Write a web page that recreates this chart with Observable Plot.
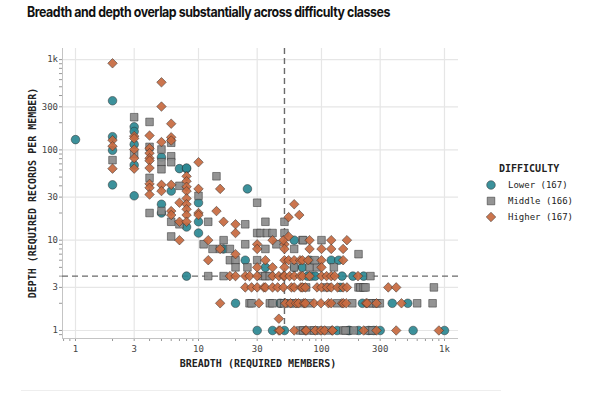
<!DOCTYPE html>
<html>
<head>
<meta charset="utf-8">
<script src="https://cdn.jsdelivr.net/npm/d3@7"></script>
<script src="https://cdn.jsdelivr.net/npm/@observablehq/plot@0.6"></script>
<style>
  body { margin: 0; background: #fff; width: 600px; height: 400px; overflow: hidden; position: relative; }
  #title { position: absolute; left: 27px; top: 3px; font: 700 14px Inter, "Noto Sans", sans-serif; letter-spacing: -0.5px; color: #111; white-space: nowrap; transform-origin: 0 0; }
  #chart { position: absolute; left: 0; top: 30px; }
  .axis-title { position: absolute; font: 700 10px "DejaVu Sans Mono", monospace; color: #222; white-space: nowrap; }
  #xtitle { left: 258px; top: 358px; transform: translateX(-50%); }
  #ytitle { left: 32px; top: 193px; transform: translate(-50%, -50%) rotate(-90deg); }
  #legend { position: absolute; left: 484px; top: 163px; font-family: "DejaVu Sans Mono", monospace; color: #222; }
  #legend .lt { font-weight: 700; font-size: 10px; margin-left: 15px; margin-bottom: 3px; }
  #legend .row { display: flex; align-items: center; height: 16px; font-size: 9px; }
  #legend svg { margin-right: 10px; }
  #rule { position: absolute; left: 21px; top: 390px; width: 480px; height: 1px; background: #eee; }
</style>
</head>
<body>
<div id="title">Breadth and depth overlap substantially across difficulty classes</div>
<div id="chart"></div>
<div class="axis-title" id="xtitle"></div>
<div class="axis-title" id="ytitle"></div>
<div id="legend"></div>
<div id="rule"></div>
<script>
// Difficulty classes and their task counts
const classes = ["Lower", "Middle", "Higher"];
const counts = [167, 166, 167];
const symbols = ["circle", "square", "diamond2"];
const colors = ["#2b8892", "#8b8b8b", "#c7693f"];

// Axis setup
const xLabel = "BREADTH (REQUIRED MEMBERS)";
const yLabel = "DEPTH (REQUIRED RECORDS PER MEMBER)";
const legendTitle = "DIFFICULTY";
const xDomain = [0.784, 1300];
const yDomain = [0.815, 1327];
const xTicks = [1, 3, 10, 30, 100, 300, 1000];
const yTicks = [1, 3, 10, 30, 100, 300, 1000];
const breadthCut = 50;
const depthCut = 4;

// [breadth, depth] per task
const lower = [
  [1,130],[2,350],[2,140],[2,99],[2,41],[3,180],[3,160],[3,115],[3,68],[3,31],
  [5,83],[5,25],[5,20],[6,35],[7,62],[8,62],[8,63],[8,14],[8,4],[10,26],[10,16],[10,12],
  [25,37],[16,8],[24,6],[35,5],[60,10],[70,5],[60,5],[83,4],[80,6],[120,6],[138,6],
  [77,4],[89,4],[147,4],[180,4],[220,4],[142,3],[20,2],[46,2],[215,2],[376,2],[503,2],
  [30,1],[40,1],[50,1],[134,1],[166,1],[169,1],[201,1],[242,1],[266,1],[300,1],[556,1],[1000,1]
];
const middle = [
  [2,77],[3,230],[3,90],[4,204],[4,108],[4,49],[4,20],[5,101],[5,73],[5,61],[5,21],
  [6,120],[6,85],[6,73],[6,16],[6,11],[7,40],[7,15],[10,31],
  [14,51],[30,26],[12,16],[24,15],[35,16],[50,16],[30,12],[32,12],[36,12],[40,12],[50,12],
  [11,9],[16,10],[13,8],[15,8],[18,8],[24,9],[35,8],[43,9],[60,8],[70,10],[71,10],[100,10],
  [18,6],[20,6],[30,6],[20,5],[25,5],[60,5],[80,5],[92,5],[126,5],[88,6],[200,7],
  [12,4],[16,4],[33,4],[35,4],[38,4],[250,4],
  [75,3],[110,3],[200,3],[207,3],[220,3],[228,3],[820,3],
  [26,2],[27,2],[38,2],[40,2],[47,2],[50,2],[56,2],[60,2],[68,2],[80,2],[134,2],[178,2],[250,2],[260,2],[280,2],[298,2],[600,2],[800,2],
  [67,1],[71,1],[82,1],[87,1],[98,1],[115,1],[151,1],[157,1],[183,1],[240,1],[260,1]
];
const higher = [
  [2,910],[2,128],[2,110],[2,62],[3,142],[3,134],[3,101],[3,81],[3,62],
  [4,144],[4,104],[4,92],[4,81],[4,76],[4,63],[4,42],[4,38],[4,32],
  [5,560],[5,302],[5,122],[5,41],[5,35],[6,195],[6,138],[6,127],[6,41],[6,21],[6,19],
  [7,26],[7,16],[7,10],[8,51],[8,45],[8,39],[8,35],[8,29],[8,25],[8,22],[8,19],[8,16],
  [10,73],[10,37],[10,20],[10,19],
  [14,21],[15,37],[16,16],[20,15],[20,12],[12,10],[12,6],[20,7],[15,8],[30,9],[30,8],[50,9],[50,8],
  [54,18],[60,25],[66,19],[40,10],[49,10],[54,11],[80,10],[120,10],[161,10],
  [80,8],[100,8],[120,8],[150,8],[35,6],[50,6],[54,6],[60,6],[67,6],[70,6],[78,6],[100,6],[150,6],
  [30,5],[40,5],[50,5],[100,5],
  [18,4],[20,4],[24,4],[26,4],[30,4],[40,4],[45,4],[49,4],[50,4],[55,4],[60,4],[67,4],[70,4],[80,4],[100,4],[110,4],[120,4],[128,4],[198,4],
  [24,3],[27,3],[30,3],[34,3],[35,3],[40,3],[44,3],[49,3],[57,3],[60,3],[68,3],[70,3],[74,3],[92,3],[100,3],[111,3],[120,3],[135,3],[150,3],[161,3],[349,3],[405,3],
  [15,2],[31,2],[51,2],[56,2],[62,2],[65,2],[72,2],[74,2],[87,2],[99,2],[114,2],[120,2],[147,2],[151,2],[159,2],[230,2],[235,2],[280,2],[447,2],
  [45,1.35],
  [45,1],[46,1],[60,1],[74,1],[75,1],[89,1],[99,1],[106,1],[122,1],[123,1],[220,1],[280,1],[405,1],[900,1]
];

const series = [lower, middle, higher];
const points = classes.flatMap((c, i) => series[i].map(([b, d]) => ({breadth: b, depth: d, cls: c})));

// Unlabelled minor ticks at 2..9 of every decade
const xMinor = d3.scaleLog().domain(xDomain).ticks().filter(t => !xTicks.includes(t));
const yMinor = d3.scaleLog().domain(yDomain).ticks().filter(t => !yTicks.includes(t));
const fmt = d3.format("~s");

const plot = Plot.plot({
  width: 600,
  height: 350,
  marginTop: 18,
  marginBottom: 42,
  marginLeft: 62,
  marginRight: 142,
  style: {fontFamily: "'DejaVu Sans Mono', monospace", fontSize: "9px", color: "#555", background: "transparent"},
  x: {type: "log", domain: xDomain},
  y: {type: "log", domain: yDomain},
  symbol: {domain: classes, range: symbols},
  color: {domain: classes, range: colors},
  marks: [
    Plot.gridX(xTicks, {stroke: "#e6e6e6", strokeOpacity: 1, strokeWidth: 1.2}),
    Plot.gridY(yTicks, {stroke: "#e6e6e6", strokeOpacity: 1, strokeWidth: 1.2}),
    // tick marks (labels drawn as text below)
    Plot.axisX(xMinor.concat(xTicks), {tickSize: 3, tickFormat: () => "", label: null, stroke: "#999"}),
    Plot.axisY(yMinor.concat(yTicks), {tickSize: 3, tickFormat: () => "", label: null, stroke: "#999"}),
    Plot.text(xTicks, {x: d => d, text: fmt, frameAnchor: "bottom", lineAnchor: "middle", dy: 10.5, fill: "#444"}),
    Plot.text(yTicks, {y: d => d, text: fmt, frameAnchor: "left", textAnchor: "end", dx: -4.5, fill: "#444"}),
    Plot.ruleX([xDomain[0]], {stroke: "#c4c4c4"}),
    Plot.ruleY([yDomain[0]], {stroke: "#c4c4c4"}),
    Plot.ruleX([breadthCut], {stroke: "#6a6a6a", strokeWidth: 1.4, strokeDasharray: "6,4"}),
    Plot.ruleY([depthCut], {stroke: "#6a6a6a", strokeWidth: 1.4, strokeDasharray: "6,4"}),
    Plot.dot(points, {
      x: "breadth", y: "depth", symbol: "cls", fill: "cls", r: 4.3,
      stroke: "#2a2a2a", strokeWidth: 0.7, strokeOpacity: 0.7, fillOpacity: 0.92
    })
  ]
});
document.getElementById("chart").append(plot);
document.getElementById("xtitle").textContent = xLabel;
document.getElementById("ytitle").textContent = yLabel;

// Condense the headline to its column width
const title = document.getElementById("title");
title.style.transform = `scaleX(${Math.min(1, 363 / title.getBoundingClientRect().width)})`;

// Legend built from the same classes, symbols and colours
const legend = d3.select("#legend");
legend.append("div").attr("class", "lt").text(legendTitle);
const symMap = {circle: d3.symbolCircle, square: d3.symbolSquare, diamond2: d3.symbolDiamond2};
classes.forEach((c, i) => {
  const row = legend.append("div").attr("class", "row");
  const svg = row.append("svg").attr("width", 14).attr("height", 14);
  svg.append("path")
    .attr("transform", "translate(7,7)")
    .attr("d", d3.symbol(symMap[symbols[i]], Math.PI * 4.3 * 4.3)())
    .attr("fill", colors[i]).attr("fill-opacity", 0.92)
    .attr("stroke", "#2a2a2a").attr("stroke-opacity", 0.7).attr("stroke-width", 0.7);
  row.append("span").text(`${c} (${counts[i]})`);
});
</script>
</body>
</html>
